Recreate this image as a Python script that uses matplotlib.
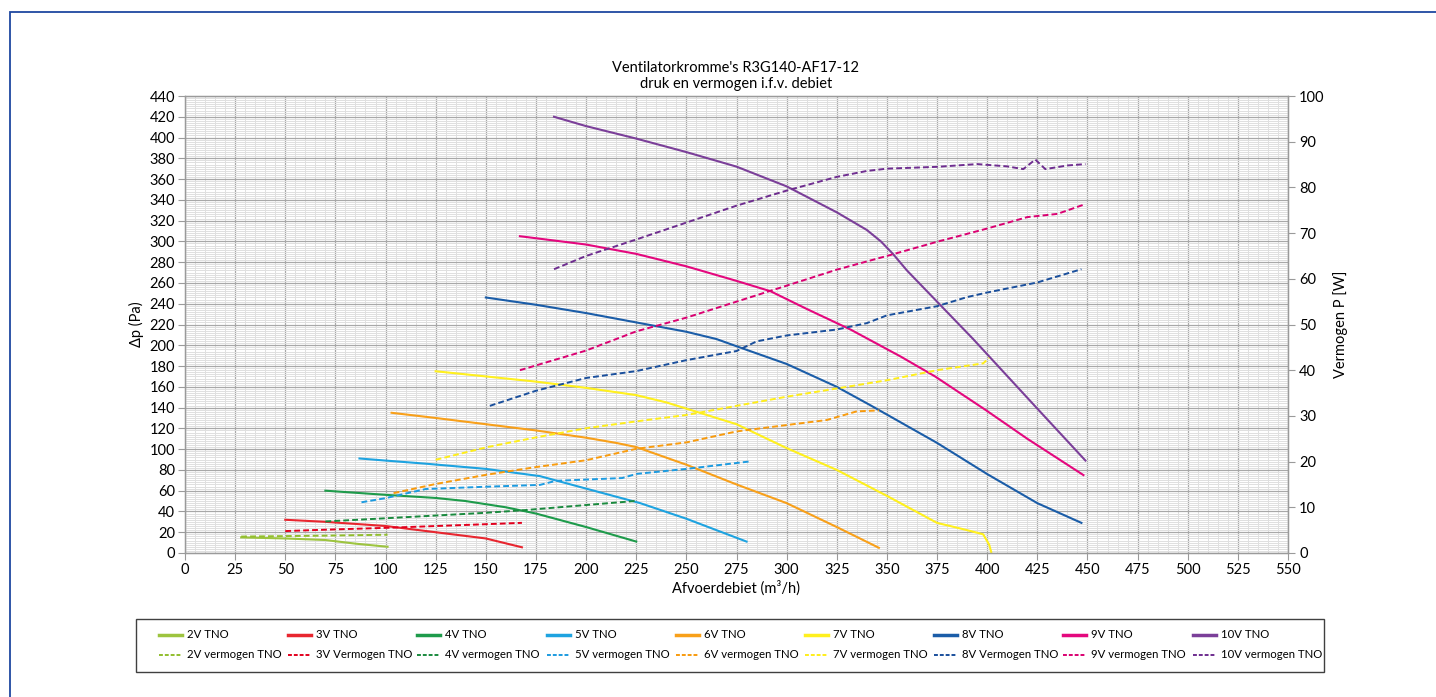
import matplotlib
matplotlib.use("Agg")
import matplotlib.pyplot as plt
from matplotlib.lines import Line2D
from matplotlib.patches import Rectangle
import numpy as np

plt.rcParams['font.family'] = ['Lato', 'DejaVu Sans']

# --- data: debiet (m3/h) vs druk (Pa) ---
x_2v = [28, 50, 70, 85, 101]
p_2v = [15, 14, 12.5, 9, 6]
x_3v = [50, 70, 100, 125, 150, 168]
p_3v = [32, 30, 26, 20, 14, 5.5]
x_4v = [70, 100, 125, 140, 160, 175, 200, 225]
p_4v = [60, 56, 53, 50, 44, 38, 25, 11]
x_5v = [87, 100, 120, 150, 177, 200, 227, 250, 280]
p_5v = [91, 89, 86, 81, 74, 62, 48, 33, 11]
x_6v = [103, 125, 150, 175, 200, 215, 225, 250, 275, 300, 325, 346]
p_6v = [135, 130, 124, 118, 111, 106, 102, 85, 66, 48, 25, 5]
x_7v = [125, 150, 175, 200, 225, 240, 250, 275, 300, 325, 350, 375, 390, 398, 401, 402]
p_7v = [175, 170, 165, 159, 152, 145, 139, 124, 101, 80, 55, 29, 22, 18, 8, 1]
x_8v = [150, 175, 200, 225, 250, 265, 278, 300, 325, 342, 375, 400, 425, 447]
p_8v = [246, 239, 231, 222, 213, 206, 197, 182, 160, 142, 106, 76, 48, 29]
x_9v = [167, 200, 225, 250, 275, 292, 310, 332, 357, 374, 399, 420, 448]
p_9v = [305, 297, 288, 276, 262, 252, 235, 215, 189, 170, 138, 110, 75]
x_10v = [184, 200, 225, 250, 275, 300, 325, 340, 347, 353, 360, 375, 393, 425, 449]
p_10v = [420, 411, 399, 386, 372, 353, 328, 311, 300, 288, 272, 242, 206, 139, 89]

# --- data: debiet (m3/h) vs vermogen (W) ---
xw_2v = [28, 50, 70, 85, 101]
w_2v = [3.6, 3.7, 3.8, 3.9, 4.0]
xw_3v = [50, 70, 100, 125, 150, 168]
w_3v = [4.8, 5.1, 5.5, 5.9, 6.3, 6.6]
xw_4v = [70, 100, 125, 150, 170, 200, 225]
w_4v = [6.9, 7.6, 8.2, 8.8, 9.4, 10.5, 11.4]
xw_5v = [88, 100, 120, 150, 177, 185, 218, 225, 250, 281]
w_5v = [11.1, 12.0, 14.0, 14.5, 14.9, 15.8, 16.4, 17.3, 18.4, 20.0]
xw_6v = [104, 125, 150, 175, 200, 225, 250, 275, 300, 320, 335, 346]
w_6v = [13.1, 15.1, 17.1, 18.8, 20.3, 22.8, 24.2, 26.6, 28.0, 29.1, 31.0, 31.2]
xw_7v = [125, 150, 175, 200, 225, 250, 275, 300, 325, 350, 375, 398, 401]
w_7v = [20.4, 23.1, 25.3, 27.3, 28.8, 30.2, 32.2, 34.2, 36.0, 37.8, 40.0, 41.5, 42.7]
xw_8v = [152, 175, 200, 225, 250, 275, 285, 300, 325, 340, 350, 375, 390, 400, 425, 447]
w_8v = [32.2, 35.5, 38.3, 39.8, 42.2, 44.2, 46.3, 47.6, 48.9, 50.3, 52.0, 54.0, 56.0, 57.0, 59.2, 62.1]
xw_9v = [167, 200, 225, 250, 275, 300, 325, 350, 375, 400, 420, 435, 448]
w_9v = [40.0, 44.3, 48.5, 51.5, 55.0, 58.5, 62.0, 65.0, 68.1, 71.0, 73.5, 74.2, 76.2]
xw_10v = [184, 200, 225, 250, 275, 300, 325, 340, 350, 375, 395, 410, 418, 424, 429, 440, 449]
w_10v = [62.1, 65.0, 68.6, 72.3, 76.0, 79.3, 82.3, 83.6, 84.1, 84.5, 85.1, 84.6, 84.0, 86.1, 84.0, 84.8, 85.1]

druk = [(x_2v, p_2v), (x_3v, p_3v), (x_4v, p_4v), (x_5v, p_5v), (x_6v, p_6v),
        (x_7v, p_7v), (x_8v, p_8v), (x_9v, p_9v), (x_10v, p_10v)]
vermogen = [(xw_2v, w_2v), (xw_3v, w_3v), (xw_4v, w_4v), (xw_5v, w_5v), (xw_6v, w_6v),
            (xw_7v, w_7v), (xw_8v, w_8v), (xw_9v, w_9v), (xw_10v, w_10v)]
labels_druk = ['2V TNO', '3V TNO', '4V TNO', '5V TNO', '6V TNO', '7V TNO', '8V TNO', '9V TNO', '10V TNO']
labels_verm = ['2V vermogen TNO', '3V Vermogen TNO', '4V vermogen TNO', '5V vermogen TNO',
               '6V vermogen TNO', '7V vermogen TNO', '8V Vermogen TNO', '9V vermogen TNO',
               '10V vermogen TNO']
colors_druk = ['#9DC43F', '#E8262F', '#1E9B4B', '#1EA3E0', '#F8A01A', '#FFF01E',
               '#1B5DA8', '#E4087E', '#7B3F99']
colors_verm = ['#92BE2E', '#E3001E', '#1A8A3E', '#1C9BE0', '#F89B0E', '#FFEE1A',
               '#1A4F9C', '#DA0071', '#6E2D8F']

W, H = 1436, 697
fig = plt.figure(figsize=(W / 100, H / 100), dpi=100)
ax = fig.add_axes([185 / W, 1 - 553 / H, (1288 - 185) / W, (553 - 96) / H])
ax2 = ax.twinx()

# outer border (blue)
fig.patches.append(Rectangle((9.5 / W, -0.1), 1.2, 1 - 12 / H + 0.1, transform=fig.transFigure,
                             fill=False, edgecolor='#1F48A0', linewidth=1.3))

ax.set_xlim(0, 550)
ax.set_ylim(0, 440)
ax2.set_ylim(0, 100)
ax.set_xticks(np.arange(0, 551, 25))
ax.set_xticks(np.arange(0, 551, 5), minor=True)
ax.set_yticks(np.arange(0, 441, 20))
ax.set_yticks(np.arange(0, 441, 2), minor=True)
ax2.set_yticks(np.arange(0, 101, 10))

ax.grid(which='minor', color='#E0E0E0', linewidth=0.7)
ax.grid(which='major', color='#A8A8A8', linewidth=0.9)
ax.set_axisbelow(True)

for a in (ax, ax2):
    for s in a.spines.values():
        s.set_color('#9A9A9A')
        s.set_linewidth(0.9)
ax.tick_params(which='major', direction='out', length=5, color='#9A9A9A', labelsize=10.5, pad=2)
ax.tick_params(which='minor', length=0)
ax2.tick_params(which='major', direction='out', length=5, color='#9A9A9A', labelsize=10.5, pad=3)

for (xs, ys), c, lab in zip(druk, colors_druk, labels_druk):
    ax.plot(xs, ys, color=c, linewidth=1.5, label=lab)
for (xs, ys), c, lab in zip(vermogen, colors_verm, labels_verm):
    ax2.plot(xs, ys, color=c, linewidth=1.4, linestyle=(0, (3, 1.6)), label=lab)

ax.set_xlabel('Afvoerdebiet (m³/h)', fontsize=10.5, labelpad=3)
ax.set_ylabel('Δp (Pa)', fontsize=10.5, labelpad=4)
ax2.set_ylabel('Vermogen P [W]', fontsize=10.5, labelpad=6)
fig.text(736 / W, 1 - 68 / H, "Ventilatorkromme's R3G140-AF17-12", ha='center', va='center', fontsize=10.5)
fig.text(736 / W, 1 - 84 / H, 'druk en vermogen i.f.v. debiet', ha='center', va='center', fontsize=10.5)

# legend box, drawn by hand so the columns keep an even pitch
fig.patches.append(Rectangle((136 / W, 1 - 672 / H), (1324 - 136) / W, (672 - 619) / H,
                             transform=fig.transFigure, fill=False, edgecolor='#404040', linewidth=1.0))
col_x0, col_pitch, handle_len, gap = 159, 129.2, 23, 5
row_y = [635, 655]
for i in range(9):
    x0 = col_x0 + i * col_pitch
    fig.lines.append(Line2D([x0 / W, (x0 + handle_len) / W], [1 - row_y[0] / H] * 2,
                            transform=fig.transFigure, color=colors_druk[i], linewidth=2.5))
    fig.text((x0 + handle_len + gap) / W, 1 - row_y[0] / H, labels_druk[i], ha='left', va='center',
             fontsize=8.2)
    fig.lines.append(Line2D([x0 / W, (x0 + handle_len) / W], [1 - row_y[1] / H] * 2,
                            transform=fig.transFigure, color=colors_verm[i], linewidth=1.4,
                            linestyle=(0, (2, 1))))
    fig.text((x0 + handle_len + gap) / W, 1 - row_y[1] / H, labels_verm[i], ha='left', va='center',
             fontsize=8.2)

fig.savefig('out.png', dpi=100)
